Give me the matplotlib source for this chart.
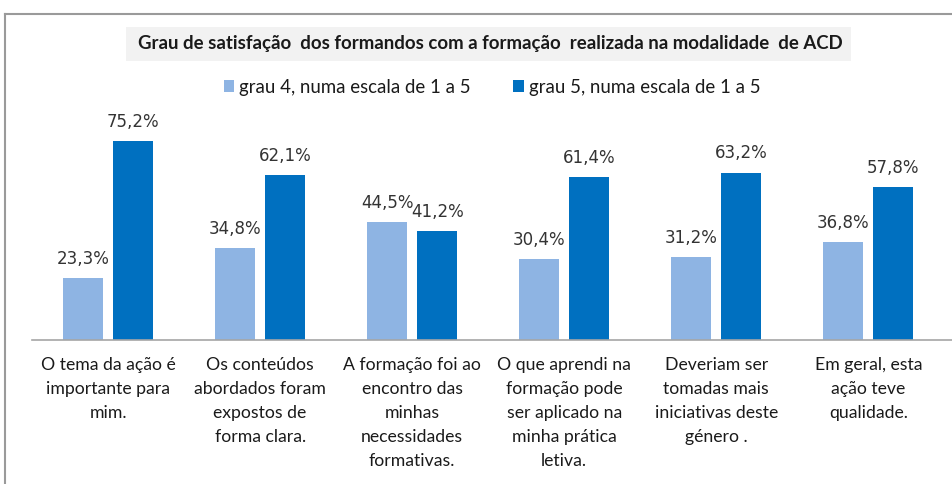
import numpy as np
import matplotlib
matplotlib.use("Agg")
import matplotlib.pyplot as plt
from matplotlib.patches import Rectangle
from matplotlib.lines import Line2D

categories = [
    "O tema da ação é\nimportante para\nmim.",
    "Os conteúdos\nabordados foram\nexpostos de\nforma clara.",
    "A formação foi ao\nencontro das\nminhas\nnecessidades\nformativas.",
    "O que aprendi na\nformação pode\nser aplicado na\nminha prática\nletiva.",
    "Deveriam ser\ntomadas mais\niniciativas deste\ngénero .",
    "Em geral, esta\nação teve\nqualidade.",
]
grau4 = [23.3, 34.8, 44.5, 30.4, 31.2, 36.8]
grau5 = [75.2, 62.1, 41.2, 61.4, 63.2, 57.8]
series_names = ["grau 4, numa escala de 1 a 5", "grau 5, numa escala de 1 a 5"]
title = "Grau de satisfação  dos formandos com a formação  realizada na modalidade  de ACD"

W, H = 952, 484
fig = plt.figure(figsize=(W / 100, H / 100), dpi=100)
font = "Lato"

# outer frame (cut off at right and bottom)
fig.add_artist(Line2D([5 / W, 5 / W], [0, 1 - 14 / H], color="#9a9a9a", lw=1.5))
fig.add_artist(Line2D([5 / W, 1], [1 - 14 / H, 1 - 14 / H], color="#9a9a9a", lw=1.5))

# title box
fig.add_artist(Rectangle((126 / W, 1 - 61 / H), (851 - 126) / W, 34 / H,
                         transform=fig.transFigure, facecolor="#f2f2f2", edgecolor="none"))
fig.text(490 / W, 1 - 44 / H, title, ha="center", va="center",
         fontsize=13.4, fontweight="bold", family=font, color="#1a1a1a")

ax = fig.add_axes([32 / W, 1 - 340 / H, (952 - 32) / W, 212 / H])
x = np.arange(len(categories))
bw = 0.263
off = 0.165
c4, c5 = "#8eb4e3", "#0070c0"
b4 = ax.bar(x - off, grau4, bw, color=c4, label=series_names[0])
b5 = ax.bar(x + off, grau5, bw, color=c5, label=series_names[1])

for xs, vals in ((x - off, grau4), (x + off, grau5)):
    for xi, v in zip(xs, vals):
        ax.text(xi, v + 7.2, f"{v:.1f}%".replace(".", ","), ha="center", va="center",
                fontsize=12, family="DejaVu Sans", color="#333333")

ax.set_xlim(-0.5, 5.55)
ax.set_ylim(0, 80)
ax.set_xticks(x)
ax.set_xticklabels(categories, fontsize=12.7, family=font, color="#1a1a1a", linespacing=1.62)
ax.tick_params(axis="x", length=0, pad=12)
ax.set_yticks([])
for s in ("top", "right", "left"):
    ax.spines[s].set_visible(False)
ax.spines["bottom"].set_color("#a6a6a6")
ax.spines["bottom"].set_linewidth(1.2)

leg = fig.legend(handles=[b4, b5], loc="center", bbox_to_anchor=(492 / W, 1 - 87 / H),
                 ncol=2, frameon=False, prop={"family": font, "size": 13.4},
                 handlelength=0.55, handleheight=0.55, handletextpad=0.27, columnspacing=2.3)
for t in leg.get_texts():
    t.set_color("#1a1a1a")

fig.savefig("out.png", dpi=100)
